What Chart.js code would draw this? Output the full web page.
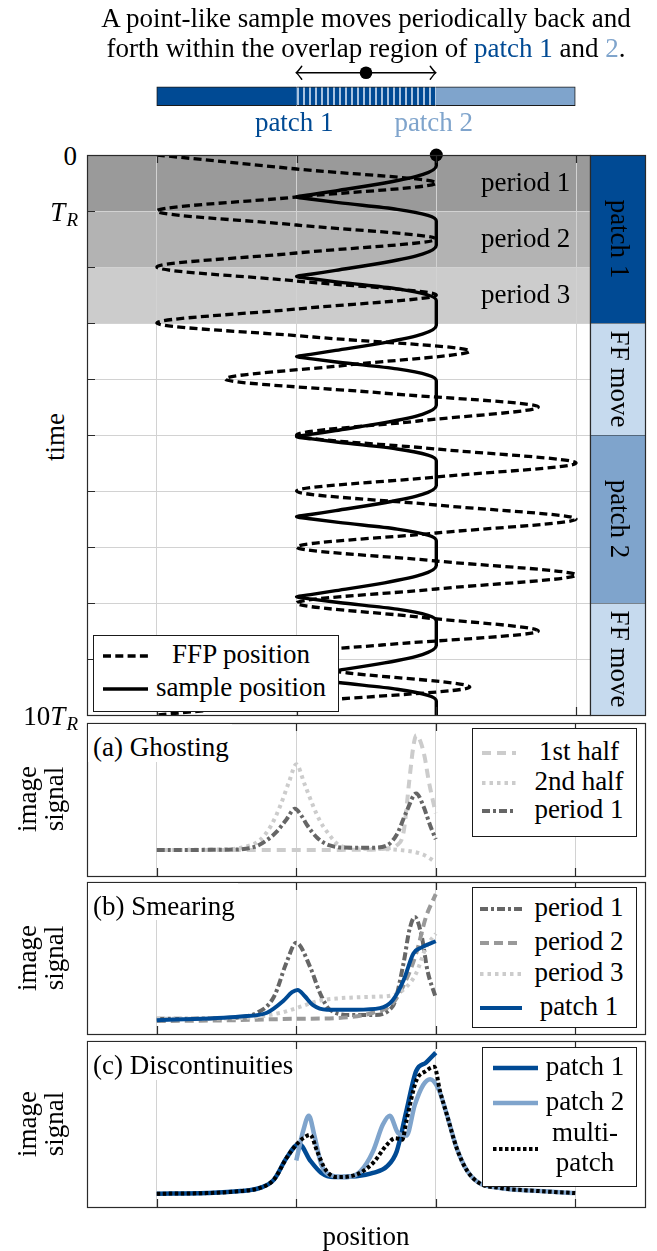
<!DOCTYPE html>
<html>
<head>
<meta charset="utf-8">
<title>Point-like sample in overlapping patches</title>
<script src="https://cdn.jsdelivr.net/npm/chart.js@4.4.1/dist/chart.umd.min.js"></script>
<style>
  html, body { margin:0; padding:0; background:#fff; }
  body { position:relative; width:657px; height:1251px; overflow:hidden; font-family:'Liberation Serif','Times New Roman',serif; font-size:27px; color:#000; }
  canvas { position:absolute; }
  .t { position:absolute; white-space:nowrap; line-height:30px; }
  .box { position:absolute; background:#fff; border:1px solid #1a1a1a; box-sizing:border-box; }
  .box svg { position:absolute; overflow:visible; }
  .box .t { text-align:center; }
  .rot { position:absolute; white-space:nowrap; text-align:center; }
  .lab { position:absolute; background:#fff; box-sizing:border-box; padding-left:5px; padding-top:8px; line-height:30px; white-space:nowrap; }
</style>
</head>
<body>
<canvas id="cHead" width="578" height="68" style="left:77px;top:51px"></canvas>
<canvas id="cMain" width="523" height="580" style="left:77px;top:145px"></canvas>
<canvas id="cBand" width="75" height="580" style="left:580px;top:145px"></canvas>
<canvas id="cA" width="578" height="173" style="left:77px;top:713px"></canvas>
<canvas id="cB" width="578" height="172" style="left:77px;top:872px"></canvas>
<canvas id="cC" width="578" height="186" style="left:77px;top:1031px"></canvas>

<div class="t" style="left:87px;top:3px;width:558px;text-align:center;">A point-like sample moves periodically back and<br>forth within the overlap region of <span style="color:#004a94">patch 1</span> and <span style="color:#7fa4cc">2</span>.</div>

<div class="rot" style="left:55px;top:437px;line-height:30px;transform:translate(-50%,-50%) rotate(-90deg);">time</div>
<div class="rot" style="left:41px;top:799px;line-height:27px;transform:translate(-50%,-50%) rotate(-90deg);">image<br>signal</div>
<div class="rot" style="left:41px;top:958px;line-height:27px;transform:translate(-50%,-50%) rotate(-90deg);">image<br>signal</div>
<div class="rot" style="left:41px;top:1124px;line-height:27px;transform:translate(-50%,-50%) rotate(-90deg);">image<br>signal</div>
<div class="t" style="left:87px;width:558px;text-align:center;top:1221px;">position</div>

<!-- panel labels -->
<div class="lab" style="left:88px;top:724px;width:144px;height:38px;">(a) Ghosting</div>
<div class="lab" style="left:88px;top:883px;width:150px;height:37px;">(b) Smearing</div>
<div class="lab" style="left:88px;top:1042px;width:205px;height:38px;">(c) Discontinuities</div>

<!-- main legend -->
<div class="box" style="left:93px;top:635px;width:246px;height:77px;">
  <svg style="left:8px;top:15px" width="48" height="10"><line x1="1" y1="5" x2="46" y2="5" stroke="#000" stroke-width="3.3" stroke-dasharray="8 4.3"/></svg>
  <div class="t" style="left:54px;width:186px;top:3px;">FFP position</div>
  <svg style="left:8px;top:48px" width="48" height="10"><line x1="1" y1="5" x2="46" y2="5" stroke="#000" stroke-width="3.4"/></svg>
  <div class="t" style="left:54px;width:186px;top:36px;">sample position</div>
</div>

<!-- legend (a) -->
<div class="box" style="left:472px;top:728px;width:165px;height:109px;">
  <svg style="left:8px;top:19px" width="38" height="10"><line x1="1" y1="5" x2="35" y2="5" stroke="#cccccc" stroke-width="4" stroke-dasharray="9 6"/></svg>
  <div class="t" style="left:52px;width:108px;top:7px;">1st half</div>
  <svg style="left:8px;top:49px" width="38" height="10"><line x1="1" y1="5" x2="35" y2="5" stroke="#cccccc" stroke-width="4" stroke-dasharray="3.5 4"/></svg>
  <div class="t" style="left:52px;width:108px;top:37px;">2nd half</div>
  <svg style="left:8px;top:77px" width="38" height="10"><line x1="1" y1="5" x2="35" y2="5" stroke="#666666" stroke-width="4" stroke-dasharray="8 3 3 3"/></svg>
  <div class="t" style="left:52px;width:108px;top:65px;">period 1</div>
</div>

<!-- legend (b) -->
<div class="box" style="left:472px;top:887px;width:165px;height:141px;">
  <svg style="left:6px;top:16px" width="46" height="10"><line x1="1" y1="5" x2="43" y2="5" stroke="#666666" stroke-width="4" stroke-dasharray="8 3 3 3"/></svg>
  <div class="t" style="left:52px;width:108px;top:4px;">period 1</div>
  <svg style="left:6px;top:50px" width="46" height="10"><line x1="1" y1="5" x2="43" y2="5" stroke="#999999" stroke-width="4" stroke-dasharray="9 5"/></svg>
  <div class="t" style="left:52px;width:108px;top:38px;">period 2</div>
  <svg style="left:6px;top:81px" width="46" height="10"><line x1="1" y1="5" x2="43" y2="5" stroke="#cccccc" stroke-width="4" stroke-dasharray="3.5 4"/></svg>
  <div class="t" style="left:52px;width:108px;top:69px;">period 3</div>
  <svg style="left:6px;top:115px" width="46" height="10"><line x1="1" y1="5" x2="43" y2="5" stroke="#004a94" stroke-width="4"/></svg>
  <div class="t" style="left:52px;width:108px;top:103px;">patch 1</div>
</div>

<!-- legend (c) -->
<div class="box" style="left:482px;top:1047px;width:155px;height:140px;">
  <svg style="left:9px;top:15px" width="48" height="10"><line x1="1" y1="5" x2="46" y2="5" stroke="#004a94" stroke-width="4.5"/></svg>
  <div class="t" style="left:56px;width:92px;top:3px;">patch 1</div>
  <svg style="left:9px;top:50px" width="48" height="10"><line x1="1" y1="5" x2="46" y2="5" stroke="#7fa4cc" stroke-width="4.5"/></svg>
  <div class="t" style="left:56px;width:92px;top:38px;">patch 2</div>
  <svg style="left:9px;top:96px" width="48" height="10"><line x1="1" y1="5" x2="46" y2="5" stroke="#000" stroke-width="4" stroke-dasharray="3.5 2.5"/></svg>
  <div class="t" style="left:56px;width:92px;top:69px;">multi-</div>
  <div class="t" style="left:56px;width:92px;top:99px;">patch</div>
</div>

<script>
// ================= DATA =================
// position axis (shared by all panels)
const positionTicks = [0, 1, 2, 3];
// time axis of the top panel (multiples of T_R)
const timeTicks = [0, 1, 2, 3, 4, 5, 6, 7, 8, 9, 10];
const timeLabelValues = [0, 1, 10];
const timeLabelTexts = ['0', 'T_R', '10T_R'];

// schematic on top: patch 1 [0,2], patch 2 [1,3], overlap [1,2]
const schematicStart = [0, 1, 2];
const schematicEnd = [1, 2, 3];
const schematicLabels = ['patch 1', 'patch 2'];
const schematicLabelPos = [1, 2];
const sampleMotion = [1, 2];
const sampleRest = [1.5];

// FFP trajectory (time in T_R, position)
const ffpTime = [0,0.25,0.5,0.75,1,1.25,1.5,1.75,2,2.25,2.5,2.75,3,3.25,3.5,3.75,4,4.25,4.5,4.75,5,5.25,5.5,5.75,6,6.25,6.5,6.75,7,7.25,7.5,7.75,8,8.25,8.5,8.75,9,9.25,9.5,9.75,10];
const ffpPosition = [0,1,2,1, 0,1,2,1, 0,1,2,1, 0,1.12,2.24,1.37, 0.49,1.61,2.73,1.87, 1,2,3,2, 1,2,3,2, 1,2,3,2, 1,1.87,2.73,1.61, 0.49,1.37,2.24,1.12, 0];

// sample trajectory (time in T_R, position)
const sampleTime = [0,
  0.19,0.35,0.50,0.64,0.71,0.75,0.79,0.85,0.97,1.08,1.18,
  1.61,1.77,1.92,2.06,2.13,2.17,2.21,2.27,2.39,2.50,2.60,
  3.04,3.20,3.35,3.49,3.56,3.60,3.64,3.70,3.82,3.93,4.03,
  4.47,4.63,4.78,4.92,4.99,5.03,5.07,5.13,5.25,5.36,5.46,
  5.90,6.06,6.21,6.35,6.42,6.46,6.50,6.56,6.68,6.79,6.89,
  7.33,7.49,7.64,7.78,7.85,7.89,7.93,7.99,8.11,8.22,8.32,
  8.76,8.92,9.07,9.21,9.28,9.32,9.36,9.42,9.54,9.65,9.75,
  10];
const samplePosition = [2.0,
  2.0,1.9,1.63,1.28,1.1,1.0,1.11,1.3,1.72,1.94,2.0,
  2.0,1.9,1.63,1.28,1.1,1.0,1.11,1.3,1.72,1.94,2.0,
  2.0,1.9,1.63,1.28,1.1,1.0,1.11,1.3,1.72,1.94,2.0,
  2.0,1.9,1.63,1.28,1.1,1.0,1.11,1.3,1.72,1.94,2.0,
  2.0,1.9,1.63,1.28,1.1,1.0,1.11,1.3,1.72,1.94,2.0,
  2.0,1.9,1.63,1.28,1.1,1.0,1.11,1.3,1.72,1.94,2.0,
  2.0,1.9,1.63,1.28,1.1,1.0,1.11,1.3,1.72,1.94,2.0,
  2.0];

// shaded periods
const periodLabels = ['period 1', 'period 2', 'period 3'];
const periodStart = [0, 1, 2];
const periodEnd = [1, 2, 3];

// right-hand band
const bandLabels = ['patch 1', 'FF move', 'patch 2', 'FF move'];
const bandStart = [0, 3, 5, 8];
const bandEnd = [3, 5, 8, 10];

// (a) Ghosting
const ghostFirstX  = [0,0.5,1.0,1.5,1.65,1.72,1.77,1.81,1.84,1.86,1.89,1.92,1.95,2.0];
const ghostFirstY  = [0.17,0.17,0.17,0.172,0.18,0.2,0.29,0.62,0.85,0.92,0.88,0.78,0.62,0.41];
const ghostSecondX = [0,0.5,0.65,0.74,0.82,0.886,0.95,1.0,1.06,1.12,1.17,1.22,1.31,1.45,1.74,1.91,2.0];
const ghostSecondY = [0.17,0.175,0.195,0.235,0.33,0.46,0.62,0.73,0.6,0.46,0.36,0.29,0.2,0.18,0.17,0.14,0.09];
const ghostPeriodX = [0,0.5,0.7,0.79,0.86,0.93,0.99,1.04,1.08,1.15,1.24,1.4,1.55,1.65,1.72,1.79,1.86,1.91,1.96,2.0];
const ghostPeriodY = [0.17,0.172,0.19,0.235,0.29,0.37,0.44,0.39,0.33,0.25,0.2,0.185,0.185,0.2,0.27,0.42,0.54,0.46,0.33,0.24];

// (b) Smearing
const smearP1X = [0,0.5,0.72,0.84,0.93,1.0,1.1,1.17,1.24,1.4,1.55,1.69,1.77,1.81,1.85,1.9,1.94,2.0];
const smearP1Y = [0.1,0.105,0.14,0.245,0.47,0.6,0.44,0.27,0.16,0.125,0.125,0.18,0.47,0.68,0.77,0.64,0.42,0.24];
const smearP2X = [0,0.5,1.0,1.3,1.55,1.69,1.79,1.86,1.93,2.0];
const smearP2Y = [0.085,0.09,0.1,0.105,0.14,0.2,0.36,0.53,0.77,0.92];
const smearP3X = [0,0.6,0.89,1.0,1.17,1.31,1.55,1.69,1.79,1.86,1.93,2.0];
const smearP3Y = [0.1,0.105,0.14,0.17,0.22,0.235,0.245,0.255,0.31,0.4,0.57,0.66];
const smearPatchX = [0,0.6,0.79,0.91,0.97,1.01,1.06,1.12,1.22,1.43,1.6,1.69,1.77,1.84,1.9,2.0];
const smearPatchY = [0.09,0.115,0.14,0.22,0.275,0.29,0.25,0.19,0.16,0.16,0.17,0.22,0.355,0.53,0.57,0.61];

// (c) Discontinuities
const discP1X = [0,0.36,0.6,0.74,0.84,0.93,1.02,1.1,1.18,1.27,1.43,1.55,1.65,1.72,1.79,1.86,1.93,2.0];
const discP1Y = [0.08,0.084,0.096,0.115,0.165,0.295,0.38,0.28,0.205,0.18,0.185,0.205,0.245,0.335,0.58,0.82,0.87,0.93];
const discP2X = [1.0,1.05,1.09,1.13,1.18,1.25,1.36,1.46,1.55,1.62,1.67,1.73,1.79,1.85,1.91,1.96,2.02,2.08,2.15,2.22,2.31,2.46,2.74,3.0];
const discP2Y = [0.28,0.46,0.55,0.43,0.255,0.19,0.18,0.215,0.335,0.495,0.55,0.445,0.43,0.615,0.735,0.77,0.71,0.555,0.355,0.225,0.145,0.115,0.096,0.084];
const discMultiX = [0,0.36,0.6,0.74,0.84,0.93,1.0,1.05,1.1,1.15,1.21,1.29,1.43,1.55,1.65,1.71,1.76,1.79,1.86,1.93,1.99,2.03,2.08,2.15,2.22,2.31,2.46,2.74,3.0];
const discMultiY = [0.08,0.084,0.096,0.115,0.165,0.295,0.375,0.415,0.435,0.335,0.225,0.18,0.195,0.265,0.375,0.415,0.405,0.52,0.76,0.82,0.845,0.7,0.555,0.355,0.225,0.145,0.115,0.096,0.084];

// ================= STYLE =================
const BLUE_DARK = '#004a94', BLUE_LIGHT = '#7fa4cc', BLUE_PALE = '#c6daee';
const SHADES = ['#9a9a9a', '#b3b3b3', '#cccccc'];
const BAND_COLORS = [BLUE_DARK, BLUE_PALE, BLUE_LIGHT, BLUE_PALE];
const GRID = '#d2d2d2';
const mainPositionRange = [-0.5, 3.1];
const panelPositionRange = [-0.5, 3.5];

Chart.defaults.font.family = "'Liberation Serif'";
Chart.defaults.animation = false;

const zip = (xs, ys) => xs.map((x, i) => ({x: x, y: ys[i]}));

const framePlugin = {
  id: 'frame',
  afterDatasetsDraw(chart, args, opts) {
    const ctx = chart.ctx, a = chart.chartArea;
    ctx.save();
    ctx.strokeStyle = '#2a2a2a';
    ctx.lineWidth = 1.2;
    ctx.setLineDash([]);
    const len = 8;
    ctx.beginPath();
    (opts.xTicks || []).forEach(v => {
      const px = Math.round(chart.scales.x.getPixelForValue(v)) + 0.5;
      ctx.moveTo(px, a.top); ctx.lineTo(px, a.top + len);
      ctx.moveTo(px, a.bottom); ctx.lineTo(px, a.bottom - len);
    });
    (opts.yTicks || []).forEach(v => {
      const py = Math.round(chart.scales.y.getPixelForValue(v)) + 0.5;
      ctx.moveTo(a.left, py); ctx.lineTo(a.left + len, py);
    });
    ctx.stroke();
    ctx.strokeRect(Math.round(a.left) + 0.5, Math.round(a.top) + 0.5, Math.round(a.right - a.left), Math.round(a.bottom - a.top));
    ctx.restore();
  }
};

const pad = {left: 10, right: 10, top: 10, bottom: 10};
const baseOpts = {
  responsive: false, maintainAspectRatio: false, animation: false,
  events: [],
  layout: {padding: pad},
};

function xScale(range, grid) {
  return {
    type: 'linear', min: range[0], max: range[1],
    afterBuildTicks: s => { s.ticks = positionTicks.map(v => ({value: v})); },
    afterFit: s => { s.height = 0; },
    ticks: {display: false}, border: {display: false},
    grid: grid ? {color: GRID, lineWidth: 1, drawTicks: false} : {display: false}
  };
}

// ---------- schematic ----------
function stripePattern(ctx) {
  const c = document.createElement('canvas');
  c.width = 6; c.height = 20;
  const g = c.getContext('2d');
  g.fillStyle = BLUE_DARK; g.fillRect(0, 0, 6, 20);
  g.fillStyle = '#a9c3e0'; g.fillRect(4, 0, 2, 20);
  return ctx.createPattern(c, 'repeat');
}
const headCtx = document.getElementById('cHead').getContext('2d');
const arrowPlugin = {
  id: 'arrowHeads',
  afterDatasetsDraw(chart) {
    const ctx = chart.ctx;
    const ys = chart.scales.y;
    const y = ys.getPixelForValue(ys.getLabels().indexOf('arrow'));
    const xa = chart.scales.x.getPixelForValue(sampleMotion[0]);
    const xb = chart.scales.x.getPixelForValue(sampleMotion[1]);
    ctx.save();
    ctx.strokeStyle = '#000'; ctx.lineWidth = 1.4; ctx.lineCap = 'round';
    ctx.beginPath();
    ctx.moveTo(xa + 5.5, y - 6.5); ctx.quadraticCurveTo(xa + 1.5, y - 1, xa, y); ctx.quadraticCurveTo(xa + 1.5, y + 1, xa + 5.5, y + 6.5);
    ctx.moveTo(xb - 5.5, y - 6.5); ctx.quadraticCurveTo(xb - 1.5, y - 1, xb, y); ctx.quadraticCurveTo(xb - 1.5, y + 1, xb - 5.5, y + 6.5);
    ctx.stroke();
    ctx.restore();
  }
};
const headChart = new Chart(headCtx, {
  type: 'bar',
  data: {
    labels: ['arrow', 'bar'],
    datasets: [
      {type: 'scatter', label: 'sample', data: sampleRest.map(v => ({x: v, y: 'arrow'})), pointRadius: 6.3, backgroundColor: '#000', borderWidth: 0, order: 0},
      {type: 'line', label: 'sample motion', data: sampleMotion.map(v => ({x: v, y: 'arrow'})), borderColor: '#000', borderWidth: 1.4, pointRadius: 0, fill: false, order: 1},
      {type: 'bar', label: 'patches', data: schematicStart.map((s, i) => ({y: 'bar', x: [s, schematicEnd[i]]})),
        backgroundColor: [BLUE_DARK, stripePattern(headCtx), BLUE_LIGHT], borderColor: '#1a1a1a',
        borderWidth: [{top: 1, bottom: 1, left: 1, right: 0}, {top: 1, bottom: 1, left: 0, right: 0}, {top: 1, bottom: 1, left: 0, right: 1}],
        borderSkipped: false, barThickness: 19, order: 2}
    ]
  },
  options: Object.assign({}, baseOpts, {
    indexAxis: 'y',
    layout: {padding: {left: 10, right: 10, top: 10, bottom: 11}},
    plugins: {legend: {display: false}, tooltip: {enabled: false}},
    scales: {
      x: {type: 'linear', min: panelPositionRange[0], max: panelPositionRange[1], display: false},
      y: {type: 'category', offset: true, display: false}
    }
  }),
  plugins: [arrowPlugin]
});

// ---------- main time/position chart ----------
const mainDatasets = [
  {type: 'scatter', label: 'sample start', data: [{x: samplePosition[0], y: sampleTime[0]}], pointRadius: 6.5, backgroundColor: '#000', borderWidth: 0, clip: false, order: 0},
  {label: 'sample position', data: zip(samplePosition, sampleTime), indexAxis: 'y', borderColor: '#000', borderWidth: 3.4, pointRadius: 0, fill: false, cubicInterpolationMode: 'monotone', order: 1},
  {label: 'FFP position', data: zip(ffpPosition, ffpTime), indexAxis: 'y', borderColor: '#000', borderWidth: 3.3, borderDash: [8, 4.3], pointRadius: 0, fill: false, cubicInterpolationMode: 'monotone', order: 2}
];
periodStart.forEach((s, i) => {
  mainDatasets.push({label: periodLabels[i], data: [{x: mainPositionRange[0], y: s}, {x: mainPositionRange[1], y: s}], indexAxis: 'x',
    borderColor: 'rgba(0,0,0,0)', borderWidth: 1, pointRadius: 0, backgroundColor: SHADES[i], fill: {value: periodEnd[i]}, order: 10 + i});
});
const mainChart = new Chart(document.getElementById('cMain'), {
  type: 'line',
  data: {datasets: mainDatasets},
  options: Object.assign({}, baseOpts, {
    plugins: {legend: {display: false}, tooltip: {enabled: false}, filler: {drawTime: 'beforeDraw'},
      frame: {xTicks: positionTicks, yTicks: timeTicks}},
    scales: {
      x: xScale(mainPositionRange, true),
      y: {type: 'linear', reverse: true, min: timeTicks[0], max: timeTicks[timeTicks.length - 1],
        afterBuildTicks: s => { s.ticks = timeTicks.map(v => ({value: v})); },
        afterFit: s => { s.width = 0; },
        ticks: {display: false}, border: {display: false},
        grid: {color: GRID, lineWidth: 1, drawTicks: false}}
    }
  }),
  plugins: [framePlugin]
});

// ---------- right band ----------
const bandChart = new Chart(document.getElementById('cBand'), {
  type: 'line',
  data: {datasets: bandStart.map((s, i) => ({label: bandLabels[i], data: [{x: 0, y: s}, {x: 1, y: s}],
    borderColor: '#2a2a2a', borderWidth: 1.2, pointRadius: 0, backgroundColor: BAND_COLORS[i], fill: {value: bandEnd[i]}}))},
  options: Object.assign({}, baseOpts, {
    plugins: {legend: {display: false}, tooltip: {enabled: false}, frame: {}},
    scales: {
      x: {type: 'linear', min: 0, max: 1, display: false},
      y: {type: 'linear', reverse: true, min: 0, max: 10, display: false}
    }
  }),
  plugins: [framePlugin]
});

// ---------- lower panels ----------
function panel(id, datasets) {
  return new Chart(document.getElementById(id), {
    type: 'line',
    data: {datasets: datasets.map(d => Object.assign({pointRadius: 0, fill: false, cubicInterpolationMode: 'monotone', borderWidth: 4}, d))},
    options: Object.assign({}, baseOpts, {
      plugins: {legend: {display: false}, tooltip: {enabled: false}, frame: {xTicks: positionTicks}},
      scales: {
        x: xScale(panelPositionRange, true),
        y: {type: 'linear', min: 0, max: 1, afterFit: s => { s.width = 0; }, ticks: {display: false}, border: {display: false}, grid: {display: false}}
      }
    }),
    plugins: [framePlugin]
  });
}
panel('cA', [
  {label: 'period 1', data: zip(ghostPeriodX, ghostPeriodY), borderColor: '#666666', borderDash: [8, 3, 3, 3], order: 0},
  {label: '2nd half', data: zip(ghostSecondX, ghostSecondY), borderColor: '#cccccc', borderDash: [3.5, 4], order: 1},
  {label: '1st half', data: zip(ghostFirstX, ghostFirstY), borderColor: '#cccccc', borderDash: [9, 6], order: 2}
]);
panel('cB', [
  {label: 'patch 1', data: zip(smearPatchX, smearPatchY), borderColor: BLUE_DARK, order: 0},
  {label: 'period 3', data: zip(smearP3X, smearP3Y), borderColor: '#cccccc', borderDash: [3.5, 4], order: 1},
  {label: 'period 2', data: zip(smearP2X, smearP2Y), borderColor: '#999999', borderDash: [9, 5], order: 2},
  {label: 'period 1', data: zip(smearP1X, smearP1Y), borderColor: '#666666', borderDash: [8, 3, 3, 3], order: 3}
]);
panel('cC', [
  {label: 'multi-patch', data: zip(discMultiX, discMultiY), borderColor: '#000', borderDash: [3.5, 2.5], order: 0},
  {label: 'patch 2', data: zip(discP2X, discP2Y), borderColor: BLUE_LIGHT, borderWidth: 4.5, order: 1},
  {label: 'patch 1', data: zip(discP1X, discP1Y), borderColor: BLUE_DARK, borderWidth: 4.5, order: 2}
]);

// ================= TEXT LABELS (placed with the charts' scales) =================
function addDiv(html, style, cls) {
  const d = document.createElement('div');
  d.className = cls || 't';
  d.innerHTML = html;
  Object.assign(d.style, style);
  document.body.appendChild(d);
  return d;
}
function texLabel(s) {
  return s.replace('T_R', '<i>T</i><i style="font-size:19px;position:relative;top:5px;left:1px">R</i>');
}
// canvas offsets
const OFF = {head: [77, 51], main: [77, 145], band: [580, 145]};

// schematic labels
schematicLabels.forEach((txt, i) => {
  const x = OFF.head[0] + headChart.scales.x.getPixelForValue(schematicLabelPos[i]) - 2;
  addDiv(txt, {left: (x - 100) + 'px', width: '200px', textAlign: 'center', top: '107px', color: i === 0 ? BLUE_DARK : BLUE_LIGHT});
});
// time tick labels
timeLabelValues.forEach((v, i) => {
  const y = OFF.main[1] + mainChart.scales.y.getPixelForValue(v);
  addDiv(texLabel(timeLabelTexts[i]), {left: '0px', width: '77px', textAlign: 'right', top: (y + 10 - 24) + 'px'});
});
// period labels
periodLabels.forEach((txt, i) => {
  const y = OFF.main[1] + mainChart.scales.y.getPixelForValue((periodStart[i] + periodEnd[i]) / 2);
  addDiv(txt, {left: '481px', top: (y - 16) + 'px'});
});
// band labels
bandLabels.forEach((txt, i) => {
  const y = OFF.band[1] + bandChart.scales.y.getPixelForValue((bandStart[i] + bandEnd[i]) / 2);
  const x = OFF.band[0] + (bandChart.chartArea.left + bandChart.chartArea.right) / 2;
  addDiv(txt, {left: (x + 2) + 'px', top: y + 'px', lineHeight: '30px', transform: 'translate(-50%,-50%) rotate(90deg)'}, 'rot');
});
</script>
</body>
</html>
